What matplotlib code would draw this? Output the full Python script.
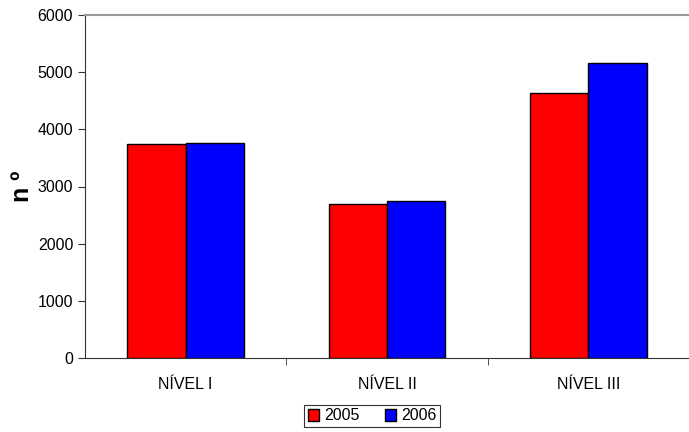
import matplotlib
matplotlib.use('Agg')
import matplotlib.pyplot as plt
import numpy as np

plt.rcParams['font.family'] = ['Liberation Sans', 'DejaVu Sans']

categories = ['NÍVEL I', 'NÍVEL II', 'NÍVEL III']
years = ['2005', '2006']
values_2005 = [3735, 2700, 4630]
values_2006 = [3760, 2755, 5165]
colors = ['#ff0000', '#0000ff']

fig = plt.figure(figsize=(6.89, 4.32), dpi=100)
ax = fig.add_axes([85 / 689, 1 - 358 / 432, 604 / 689, 343 / 432])

x = np.arange(len(categories))
w = 0.29
ax.bar(x - w / 2, values_2005, w, color=colors[0], edgecolor='black', linewidth=1, label=years[0])
ax.bar(x + w / 2, values_2006, w, color=colors[1], edgecolor='black', linewidth=1, label=years[1])

ax.set_xlim(-0.5, 2.5)
ax.set_ylim(0, 6000)
ax.set_yticks(range(0, 6001, 1000))
ax.set_xticks(x)
ax.set_xticklabels(categories, fontsize=11.5)
ax.set_xticks([0.5, 1.5], minor=True)
ax.tick_params(axis='x', which='major', length=0, pad=14)
ax.tick_params(axis='x', which='minor', length=5, color='#333333')
ax.tick_params(axis='y', length=5, color='#333333', labelsize=11.5)

ax.spines['right'].set_visible(False)
ax.spines['top'].set_color('#999999')
ax.spines['top'].set_linewidth(1.5)
ax.spines['left'].set_color('#333333')
ax.spines['bottom'].set_color('#333333')

ax.set_ylabel('n º', fontsize=18, fontweight='bold')
ax.yaxis.set_label_coords(-0.085, 0.5)

leg = fig.legend(loc='center', bbox_to_anchor=(372 / 689, 1 - 416 / 432), ncol=2,
                 frameon=True, fancybox=False, edgecolor='black', fontsize=11.5,
                 handlelength=0.7, handleheight=0.7, columnspacing=1.6,
                 borderpad=0.25, handletextpad=0.3)
leg.get_frame().set_linewidth(0.8)

fig.savefig('out.png', dpi=100)
